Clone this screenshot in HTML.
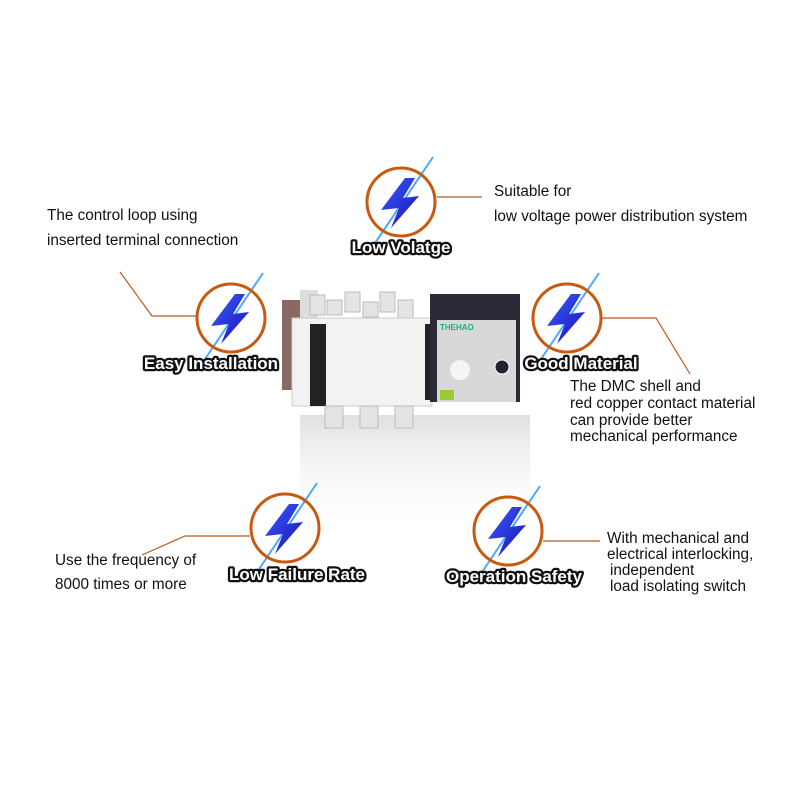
<!DOCTYPE html>
<html><head><meta charset="utf-8"><style>
html,body{margin:0;padding:0;background:#fff;}
svg{display:block}
.t{font-family:"Liberation Sans",sans-serif;font-size:15.3px;fill:#111}
.lb{font-family:"Liberation Sans",sans-serif;font-weight:bold;font-size:17px;fill:#fff;stroke:#111;stroke-width:4.5px;paint-order:stroke;stroke-linejoin:round}
</style></head><body>
<svg width="800" height="800" viewBox="0 0 800 800" xmlns="http://www.w3.org/2000/svg">
<defs>
<linearGradient id="bolt" x1="0" y1="0" x2="1" y2="1"><stop offset="0" stop-color="#3a5cff"/><stop offset="1" stop-color="#1a10b0"/></linearGradient>
<linearGradient id="refl" x1="0" y1="0" x2="0" y2="1"><stop offset="0" stop-color="#d8d8d8" stop-opacity=".8"/><stop offset="1" stop-color="#fff" stop-opacity="0"/></linearGradient>
<g id="ic">
<line x1="-32" y1="50" x2="32" y2="-45" stroke="#4aa8ff" stroke-width="2"/>
<circle r="34" fill="none" stroke="#c85a10" stroke-width="3"/>
<path d="M4,-24 L-20,8 L-2,6 L-10,26 L18,-6 L2,-4 L14,-24 Z" fill="url(#bolt)"/>
</g>
</defs>
<rect x="300" y="415" width="230" height="120" fill="url(#refl)"/>
<rect x="282" y="300" width="36" height="90" fill="#8a6a60"/>
<rect x="300" y="290" width="18" height="30" fill="#ddd"/>
<g fill="#e4e4e4" stroke="#bbb"><rect x="310" y="295" width="15" height="20"/><rect x="327" y="300" width="15" height="15"/><rect x="345" y="292" width="15" height="20"/><rect x="363" y="302" width="15" height="15"/><rect x="380" y="292" width="15" height="20"/><rect x="398" y="300" width="15" height="18"/></g>
<rect x="292" y="318" width="140" height="88" fill="#f2f2f2" stroke="#ccc"/>
<rect x="310" y="324" width="16" height="82" fill="#222"/>
<rect x="425" y="324" width="12" height="76" fill="#222"/>
<g fill="#e4e4e4" stroke="#bbb"><rect x="325" y="406" width="18" height="22"/><rect x="360" y="406" width="18" height="22"/><rect x="395" y="406" width="18" height="22"/></g>
<rect x="430" y="294" width="90" height="108" fill="#2a2a38"/>
<rect x="437" y="320" width="79" height="82" fill="#d8d8d8"/>
<circle cx="460" cy="370" r="10" fill="#f5f5f5"/>
<circle cx="502" cy="367" r="7" fill="#223" stroke="#fff"/>
<rect x="440" y="390" width="14" height="10" fill="#9c3"/>
<text x="440" y="330" font-family="Liberation Sans" font-size="8" font-weight="bold" fill="#2a8">THEHAO</text>
<g stroke="#b85a20" stroke-width="1.2" fill="none">
<polyline points="437,197 482,197"/>
<polyline points="120,272 152,316 197,316"/>
<polyline points="601,318 656,318 690,374"/>
<polyline points="250,536 185,536 142,555"/>
<polyline points="543,541 600,541"/>
</g>
<use href="#ic" x="401" y="202"/>
<use href="#ic" x="231" y="318"/>
<use href="#ic" x="567" y="318"/>
<use href="#ic" x="285" y="528"/>
<use href="#ic" x="508" y="531"/>
<text class="lb" x="401" y="253" text-anchor="middle">Low Volatge</text>
<text class="lb" x="211" y="369" text-anchor="middle">Easy Installation</text>
<text class="lb" x="581" y="369" text-anchor="middle">Good Material</text>
<text class="lb" x="297" y="580" text-anchor="middle">Low Failure Rate</text>
<text class="lb" x="514" y="582" text-anchor="middle">Operation Safety</text>
<text class="t" x="494" y="196">Suitable for</text>
<text class="t" x="494" y="221">low voltage power distribution system</text>
<text class="t" x="47" y="220">The control loop using</text>
<text class="t" x="47" y="245">inserted terminal connection</text>
<text class="t" x="570" y="391">The DMC shell and</text>
<text class="t" x="570" y="408">red copper contact material</text>
<text class="t" x="570" y="425">can provide better</text>
<text class="t" x="570" y="441">mechanical performance</text>
<text class="t" x="55" y="565">Use the frequency of</text>
<text class="t" x="55" y="589">8000 times or more</text>
<text class="t" x="607" y="543">With mechanical and</text>
<text class="t" x="607" y="559">electrical interlocking,</text>
<text class="t" x="610" y="575">independent</text>
<text class="t" x="610" y="591">load isolating switch</text>
</svg>
</body></html>
